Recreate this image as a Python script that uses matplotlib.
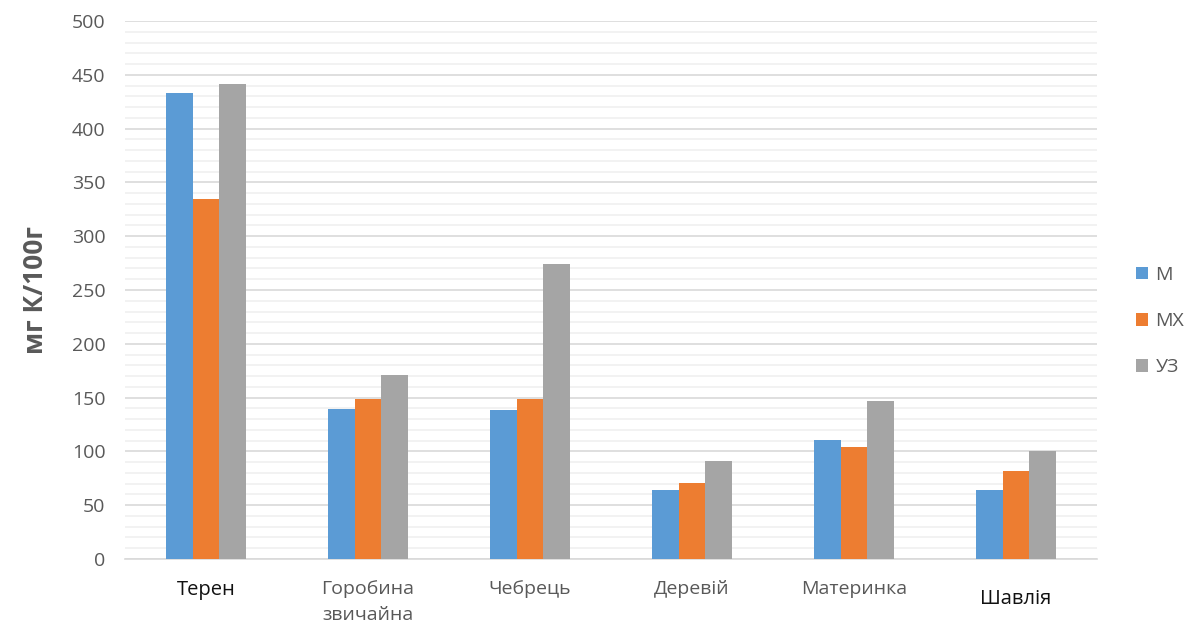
import matplotlib
matplotlib.use("Agg")
import matplotlib.pyplot as plt
import numpy as np
from matplotlib.ticker import MultipleLocator

categories = ["Терен", "Горобина\nзвичайна", "Чебрець", "Деревій", "Материнка", "Шавлія"]
series_names = ["М", "МХ", "УЗ"]
m_values = [433, 139, 138, 64, 111, 64]
mx_values = [335, 149, 149, 71, 104, 82]
uz_values = [441, 171, 274, 91, 147, 100]
colors = ["#5b9bd5", "#ed7d31", "#a5a5a5"]

plt.rcParams["font.family"] = ["Open Sans", "DejaVu Sans"]

fig = plt.figure(figsize=(11.99, 6.27), dpi=100)
ax = fig.add_axes([0.1043, 0.1085, 0.8107, 0.858])

x = np.arange(len(categories))
w = 0.165
for i, (vals, name) in enumerate(zip([m_values, mx_values, uz_values], series_names)):
    ax.bar(x + (i - 1) * w, vals, width=w, color=colors[i], label=name, zorder=3)

ax.set_xlim(-0.5, len(categories) - 0.5)
ax.set_ylim(0, 500)
ax.yaxis.set_major_locator(MultipleLocator(50))
ax.yaxis.set_minor_locator(MultipleLocator(10))
ax.grid(which="major", axis="y", color="#d9d9d9", linewidth=1.2, zorder=0)
ax.grid(which="minor", axis="y", color="#f0f0f0", linewidth=1.2, zorder=0)
for s in ["top", "right", "left"]:
    ax.spines[s].set_visible(False)
ax.spines["bottom"].set_color("#d9d9d9")
ax.spines["bottom"].set_linewidth(1.2)
ax.tick_params(axis="both", which="both", length=0)
ax.tick_params(axis="y", labelsize=14, labelcolor="#595959", pad=14)

ax.set_xticks(x)
ax.set_xticklabels(categories, fontsize=14, color="#595959", linespacing=1.6)
ax.tick_params(axis="x", pad=15)
for lbl in ax.get_xticklabels():
    if lbl.get_text() in ("Терен", "Шавлія"):
        lbl.set_color("#111111")
        lbl.set_fontsize(14.5)
        lbl.set_fontweight("medium")
    if lbl.get_text() == "Шавлія":
        lbl.set_y(-0.018)

ax.set_ylabel("мг К/100г", fontsize=19, fontweight="bold", color="#595959")
ax.yaxis.set_label_coords(-0.078, 0.5)

leg = ax.legend(loc="center left", bbox_to_anchor=(1.022, 0.442), frameon=False,
                fontsize=14, labelspacing=1.45, handlelength=0.6, handleheight=0.6,
                handletextpad=0.4)
for t in leg.get_texts():
    t.set_color("#595959")

fig.savefig("out.png", dpi=100)
